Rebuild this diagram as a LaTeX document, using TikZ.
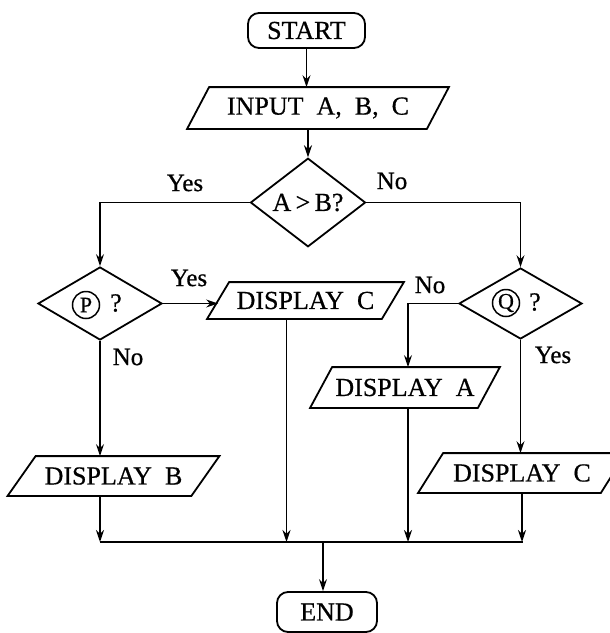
\documentclass[tikz,border=0pt]{standalone}
\usepackage{fontspec}
\setmainfont[FakeBold=0.6]{Liberation Serif}
\usetikzlibrary{shapes.geometric,arrows.meta,calc}
\newcommand\pgram[2]{\draw ([xshift=#2pt]#1.north west) -- ([xshift=#2pt]#1.north east) -- ([xshift=-#2pt]#1.south east) -- ([xshift=-#2pt]#1.south west) -- cycle;}
\newcommand\wsp{\hspace{0.5em}}
\begin{document}
\begin{tikzpicture}[x=1pt,y=-1pt,line width=1.8pt,
  txt/.style={font=\fontsize{26}{26}\selectfont},
  term/.style 2 args={draw,rounded corners=11pt,minimum width=#1,minimum height=#2,inner sep=0pt,txt},
  dec/.style 2 args={draw,diamond,inner sep=0pt,minimum width=#1,minimum height=#2,txt},
  io/.style 2 args={minimum width=#1,minimum height=#2,inner sep=0pt,txt},
  circ/.style={draw,circle,inner sep=0pt,minimum size=27pt,line width=1.5pt,font=\fontsize{22}{22}\selectfont},
  arr/.style={-{Stealth[open,length=12pt,width=8pt]}},
  lab/.style={font=\fontsize{25}{25}\selectfont}]
\useasboundingbox (0,0) rectangle (610,633);
% nodes
\node[term={117pt}{35pt}] (start) at (306.5,30.5) {START};
\node[io={238pt}{40pt}] (in) at (318,108) {INPUT\wsp A,\wsp B,\wsp C};
\pgram{in}{11}
\node[dec={115pt}{69pt}] (ab) at (308,202.5) {A\,>\,B?};
\node[dec={124pt}{73pt}] (p) at (100,303.5) {};
\node[circ] (pc) at (86,305) {P};
\node[txt] (pq) at (116,303) {?};
\node[io={173pt}{35pt}] (dC) at (305.5,300.5) {DISPLAY\wsp C};
\pgram{dC}{11}
\node[dec={123pt}{71pt}] (q) at (520.5,303.5) {};
\node[circ] (qc) at (506,303) {Q};
\node[txt] (qq) at (535,302) {?};
\node[io={166pt}{39pt}] (dA) at (405,387.5) {DISPLAY\wsp A};
\pgram{dA}{11}
\node[io={182pt}{38pt}] (dB) at (113.5,476) {DISPLAY\wsp B};
\pgram{dB}{14}
\node[io={181pt}{38pt}] (dC2) at (522,473) {DISPLAY\wsp C};
\pgram{dC2}{12.5}
\node[term={100pt}{40pt}] (end) at (327,612) {END};
% labels
\node[lab] (y1) at (185,183) {Yes};
\node[lab] (n1) at (392,181) {No};
\node[lab] (y2) at (189,278) {Yes};
\node[lab] (n2) at (128,357) {No};
\node[lab] (n3) at (430,285) {No};
\node[lab] (y3) at (553,355) {Yes};
% merge coordinates
\coordinate (mL) at (100,542);
\coordinate (mR) at (523,542);
\coordinate (mC) at (323,542);
% connectors
\draw[arr] (start.south) -- (start.south |- in.north);
\draw[arr] (ab.north |- in.south) -- (ab.north);
\draw[arr] (ab.west) -| (p.north);
\draw[arr] (ab.east) -| (q.north);
\draw[arr] (p.east) -- (p.east -| dC.west);
\draw[arr] (p.south) -- (p.south |- dB.north);
\draw[arr] (q.west) -| ([xshift=3pt]dA.north);
\draw[arr] (q.south) -- (q.south |- dC2.north);
\draw[arr] (p.south |- dB.south) -- (mL);
\draw[arr] ([xshift=-19pt]dC.south) -- ([xshift=-19pt]dC.south |- mL);
\draw[arr] ([xshift=3pt]dA.south) -- ([xshift=3pt]dA.south |- mL);
\draw[arr] (dC2.south) -- (dC2.south |- mL);
\draw (mL) -- (mR);
\draw[arr] (mC) -- (mC |- end.north);
\end{tikzpicture}
\end{document}
